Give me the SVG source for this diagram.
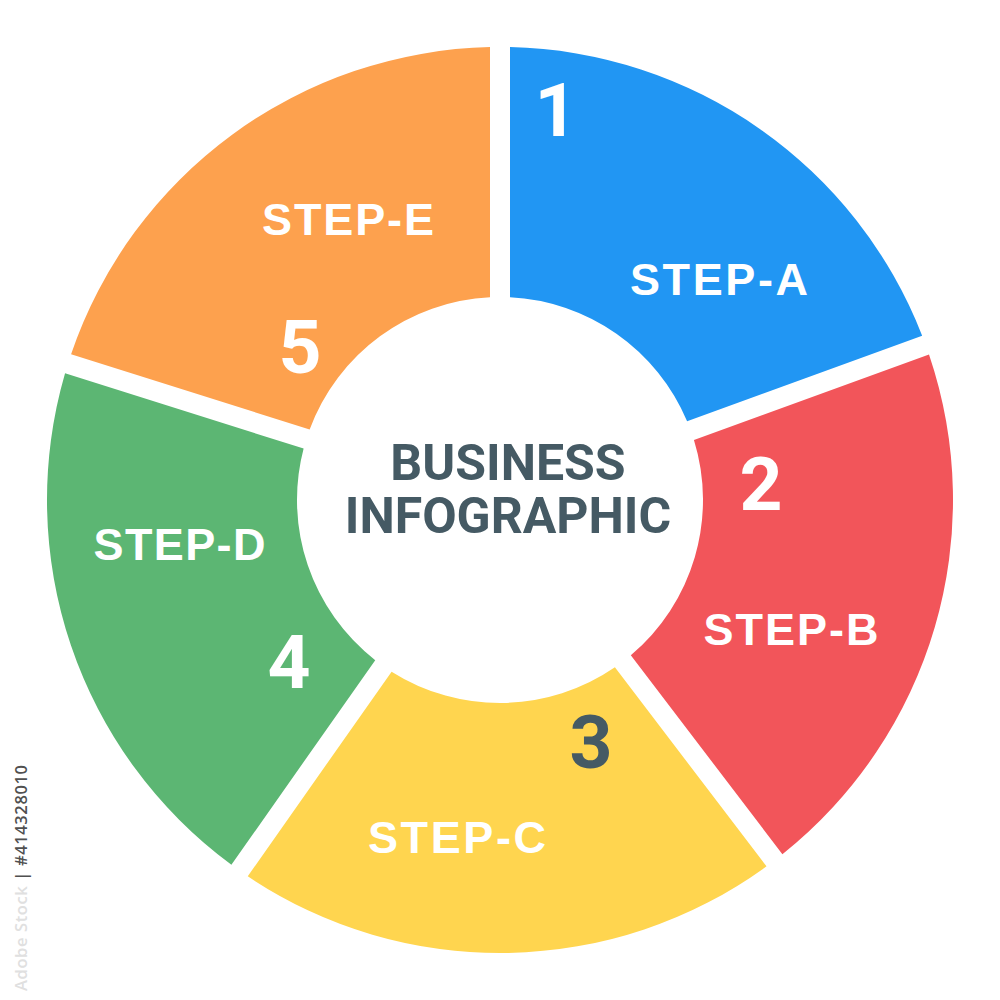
<svg xmlns="http://www.w3.org/2000/svg" width="1000" height="1000" viewBox="0 0 1000 1000">
  <style>
    .label { font-family: "Liberation Sans", Arial, sans-serif; font-weight: 700; font-size: 45px; fill: #ffffff; }
    .num { font-family: Roboto, "Liberation Sans", Arial, sans-serif; font-weight: 700; font-size: 75px; fill: #ffffff; text-anchor: middle; }
    .num.dark { fill: #455A64; }
    .title { font-family: Roboto, "Liberation Sans", Arial, sans-serif; font-weight: 700; font-size: 50px; fill: #455A64; text-anchor: middle; }
    .stamp { font-family: "Open Sans", "Liberation Sans", Arial, sans-serif; font-size: 16.5px; font-weight: 600; fill: #505050; }
  </style>
  <rect width="1000" height="1000" fill="#ffffff"/>

  <g id="step-a">
    <path d="M510,297.25 L510,47.11 A453,453 0 0 1 922.16,335.70 L687.10,421.25 A203,203 0 0 0 510,297.25 Z" fill="#2196F3"/>
    <text class="num" x="556" y="136">1</text>
    <text class="label" x="630" y="295" textLength="178" lengthAdjust="spacing">STEP-A</text>
  </g>
  <g id="step-b">
    <path d="M693.94,440.05 L929.00,354.50 A453,453 0 0 1 782.40,854.20 L630.81,655.22 A203,203 0 0 0 693.94,440.05 Z" fill="#F2555A"/>
    <text class="num" x="761" y="510">2</text>
    <text class="label" x="703.5" y="645" textLength="175" lengthAdjust="spacing">STEP-B</text>
  </g>
  <g id="step-c">
    <path d="M614.91,667.34 L766.50,866.32 A453,453 0 0 1 247.76,876.29 L391.60,671.63 A203,203 0 0 0 614.91,667.34 Z" fill="#FFD54F"/>
    <text class="num dark" x="591" y="768">3</text>
    <text class="label" x="368" y="853" textLength="178" lengthAdjust="spacing">STEP-C</text>
  </g>
  <g id="step-d">
    <path d="M375.24,660.13 L231.40,864.79 A453,453 0 0 1 65.06,373.35 L303.62,448.57 A203,203 0 0 0 375.24,660.13 Z" fill="#5CB673"/>
    <text class="num" x="289" y="688">4</text>
    <text class="label" x="93.5" y="560" textLength="172" lengthAdjust="spacing">STEP-D</text>
  </g>
  <g id="step-e">
    <path d="M309.64,429.49 L71.08,354.27 A453,453 0 0 1 490,47.11 L490,297.25 A203,203 0 0 0 309.64,429.49 Z" fill="#FDA14E"/>
    <text class="num" x="300" y="373">5</text>
    <text class="label" x="262" y="234.5" textLength="172" lengthAdjust="spacing">STEP-E</text>
  </g>

  <g id="center">
    <text class="title" x="508" y="480">BUSINESS</text>
    <text class="title" x="508" y="533">INFOGRAPHIC</text>
  </g>

  <g id="connectors"></g>

  <text class="stamp" transform="translate(27,991) rotate(-90)" x="0" y="0" textLength="226" lengthAdjust="spacing"><tspan fill="#e0e0e0">Adobe Stock</tspan> | #414328010</text>
</svg>
